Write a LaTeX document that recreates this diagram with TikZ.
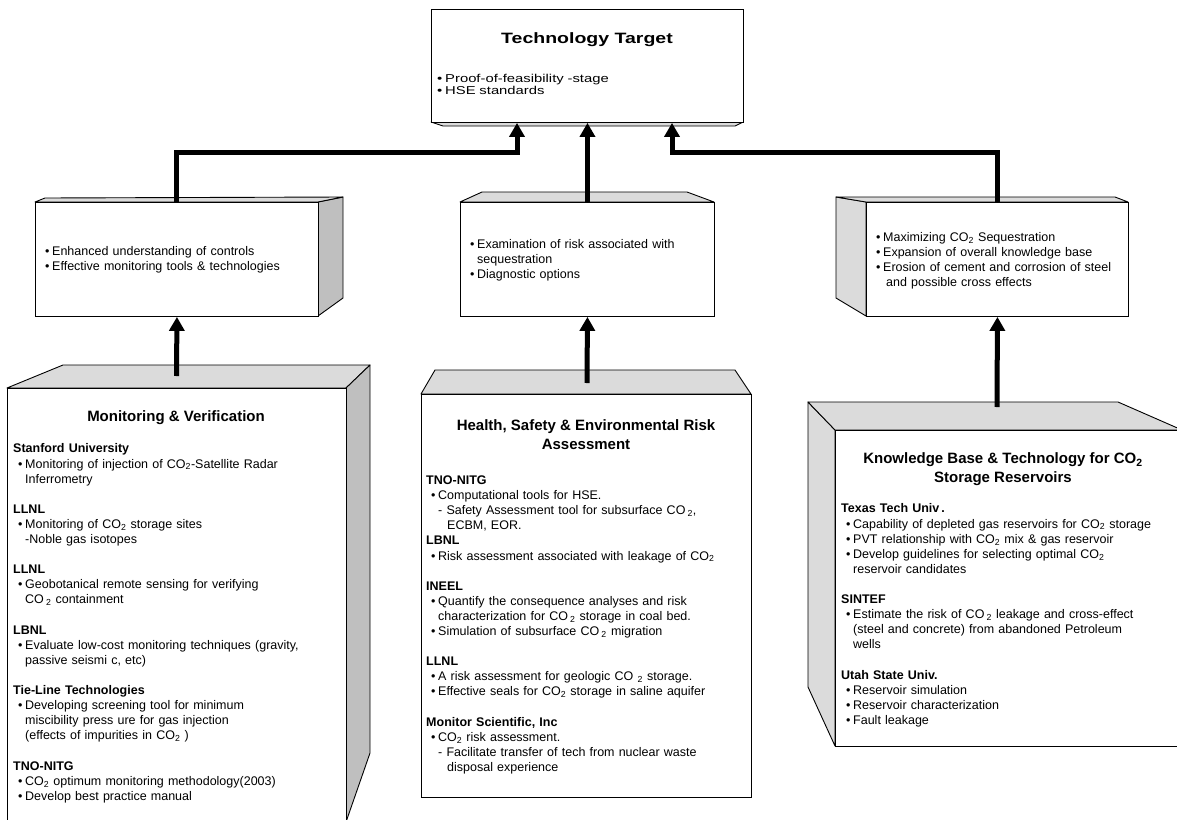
\documentclass[tikz,border=0pt]{standalone}
\usepackage{fontspec}
\setmainfont{Liberation Sans}
\newfontfamily\widefont{Liberation Sans}[FakeStretch=1.3]
\usetikzlibrary{arrows.meta}

\newcommand\cotwo{CO\textsubscript{2}}
\newcommand\bpt{\makebox[12pt][l]{\hspace*{5pt}\textbullet}}
\newcommand\bcont{\hspace*{12pt}}
\newcommand\tstr{\rule{0pt}{10pt}}
\newcommand\gap{15.1pt}

\tikzset{
  frontbox/.style={draw, fill=white, line width=0.9pt, inner sep=0pt, anchor=north west},
  topface/.style={draw, fill=gray!28, line width=0.9pt, line join=round},
  sideface/.style={draw, fill=gray!50, line width=0.9pt, line join=round},
  bodytext/.style={anchor=north west, inner sep=0pt, align=left, text width=340pt,
    font=\fontsize{12.5}{15.1}\selectfont},
  titletext/.style={inner sep=0pt, align=center, font=\bfseries\fontsize{15}{19}\selectfont},
  link/.style={line width=5pt, -{Triangle[width=15pt,length=14pt]}}
}

\begin{document}
\begin{tikzpicture}[x=1pt, y=-1pt]
    \useasboundingbox (0,0) rectangle (1177,819);
    \begin{scope}
    \clip (0,0) rectangle (1177,819);

    % Ziel oben
    \filldraw[topface] (431,122) -- (443,126) -- (735,126) -- (743,122) -- cycle;
    \node[frontbox, minimum width=312pt, minimum height=113pt] (target) at (431,9) {};
    \node[titletext, anchor=base, font=\widefont\bfseries\fontsize{15}{19}\selectfont] (targetTitle) at (587,43) {Technology Target};
    \node[bodytext, font=\widefont\fontsize{11.4}{12.3}\selectfont] (targetText) at (433,72)
      {\tstr\makebox[12pt][l]{\hspace*{4pt}\textbullet}Proof-of-feasibility -stage\\
       \makebox[12pt][l]{\hspace*{4pt}\textbullet}HSE standards};

    % mittlere Ebene
    \filldraw[sideface] (318,202) -- (343,197) -- (343,298) -- (318,316) -- cycle;
    \filldraw[topface] (35,202) -- (45,198) -- (343,197) -- (318,202) -- cycle;
    \node[frontbox, minimum width=283pt, minimum height=114pt] (sumL) at (35,202) {};
    \node[bodytext] (sumLText) at (40,245)
      {\tstr\bpt Enhanced understanding of controls\\
       \bpt Effective monitoring tools \& technologies};

    \filldraw[topface] (460,202) -- (482,192) -- (687,192) -- (714,202) -- cycle;
    \node[frontbox, minimum width=254pt, minimum height=114pt] (sumC) at (460,202) {};
    \node[bodytext] (sumCText) at (465,238)
      {\tstr\bpt Examination of risk associated with\\
       \bcont sequestration\\
       \bpt Diagnostic options};

    \filldraw[sideface, fill=gray!28] (866,202) -- (836,197) -- (836,298) -- (866,316) -- cycle;
    \filldraw[topface] (836,197) -- (1115,197) -- (1128,202) -- (866,202) -- cycle;
    \node[frontbox, minimum width=262pt, minimum height=114pt] (sumR) at (866,202) {};
    \node[bodytext] (sumRText) at (871,231)
      {\tstr\bpt Maximizing \cotwo{} Sequestration\\
       \bpt Expansion of overall knowledge base\\
       \bpt Erosion of cement and corrosion of steel\\
       \bcont\hspace*{3pt}and possible cross effects};

    % untere Ebene
    \filldraw[topface] (7,388) -- (63,365) -- (370,365) -- (346,388) -- cycle;
    \filldraw[sideface] (346,388) -- (370,365) -- (370,753) -- (346,822) -- cycle;
    \node[frontbox, minimum width=339pt, minimum height=450pt] (mv) at (7,388) {};
    \node[titletext, anchor=base] (mvTitle) at (176,421) {Monitoring \& Verification};
    \node[bodytext] (mvText) at (13,442.7)
      {\tstr\textbf{Stanford University}\\
       \bpt Monitoring of injection of \cotwo-Satellite Radar\\
       \bcont Inferrometry\\[\gap]
       \textbf{LLNL}\\
       \bpt Monitoring of \cotwo{} storage sites\\
       \bcont -Noble gas isotopes\\[\gap]
       \textbf{LLNL}\\
       \bpt Geobotanical remote sensing for verifying\\
       \bcont CO\,\textsubscript{2} containment\\[\gap]
       \textbf{LBNL}\\
       \bpt Evaluate low-cost monitoring techniques (gravity,\\
       \bcont passive seismi c, etc)\\[\gap]
       \textbf{Tie-Line Technologies}\\
       \bpt Developing screening tool for minimum\\
       \bcont miscibility press ure for gas injection\\
       \bcont (effects of impurities in \cotwo{} )\\[\gap]
       \textbf{TNO-NITG}\\
       \bpt \cotwo{} optimum monitoring methodology(2003)\\
       \bpt Develop best practice manual};

    \filldraw[topface] (421,394) -- (435,370) -- (735,370) -- (751,394) -- cycle;
    \node[frontbox, minimum width=330pt, minimum height=403pt] (hse) at (421,394) {};
    \node[titletext, anchor=north] (hseTitle) at (586,419)
      {\rule{0pt}{11pt}Health, Safety \& Environmental Risk\\ Assessment};
    \node[bodytext] (hseText) at (426,474.3)
      {\tstr\textbf{TNO-NITG}\\
       \bpt Computational tools for HSE.\\
       \bcont - Safety Assessment tool for subsurface CO\,\textsubscript{2},\\
       \bcont\hspace*{9pt}ECBM, EOR.\\
       \textbf{LBNL}\\
       \bpt Risk assessment associated with leakage of \cotwo\\[\gap]
       \textbf{INEEL}\\
       \bpt Quantify the consequence analyses and risk\\
       \bcont characterization for CO\,\textsubscript{2} storage in coal bed.\\
       \bpt Simulation of subsurface CO\,\textsubscript{2} migration\\[\gap]
       \textbf{LLNL}\\
       \bpt A risk assessment for geologic CO \textsubscript{2} storage.\\
       \bpt Effective seals for \cotwo{} storage in saline aquifer\\[\gap]
       \textbf{Monitor Scientific, Inc}\\
       \bpt \cotwo{} risk assessment.\\
       \bcont - Facilitate transfer of tech from nuclear waste\\
       \bcont\hspace*{9pt}disposal experience};

    \filldraw[sideface, fill=gray!28] (835,430) -- (808,402) -- (808,687) -- (835,746) -- cycle;
    \filldraw[topface] (835,430) -- (808,402) -- (1118,402) -- (1182,430) -- cycle;
    \node[frontbox, minimum width=347pt, minimum height=316pt] (kb) at (835,430) {};
    \node[titletext, anchor=north] (kbTitle) at (1003,452.7)
      {\rule{0pt}{11pt}Knowledge Base \& Technology for \cotwo\\ Storage Reservoirs};
    \node[bodytext] (kbText) at (841,502.7)
      {\tstr\textbf{Texas Tech Univ\,.}\\
       \bpt Capability of depleted gas reservoirs for \cotwo{} storage\\
       \bpt PVT relationship with \cotwo{} mix \& gas reservoir\\
       \bpt Develop guidelines for selecting optimal \cotwo\\
       \bcont reservoir candidates\\[\gap]
       \textbf{SINTEF}\\
       \bpt Estimate the risk of CO\,\textsubscript{2} leakage and cross-effect\\
       \bcont (steel and concrete) from abandoned Petroleum\\
       \bcont wells\\[\gap]
       \textbf{Utah State Univ.}\\
       \bpt Reservoir simulation\\
       \bpt Reservoir characterization\\
       \bpt Fault leakage};

    % Verbindungen
    \coordinate (jL) at (517,152);
    \coordinate (jR) at (672,152);
    \coordinate (mvTop) at (176.5,376);
    \coordinate (hseTop) at (587,383);
    \coordinate (kbTop) at (997,407);

    \draw[link] (sumL.north) |- (jL) -- (jL |- target.south);
    \draw[link] (sumC.north) -- (target.south);
    \draw[link] (sumR.north) |- (jR) -- (jR |- target.south);

    \draw[link] (mvTop) -- (sumL.south);
    \draw[link] (hseTop) -- (sumC.south);
    \draw[link] (kbTop) -- (sumR.south);
    \end{scope}
\end{tikzpicture}
\end{document}
